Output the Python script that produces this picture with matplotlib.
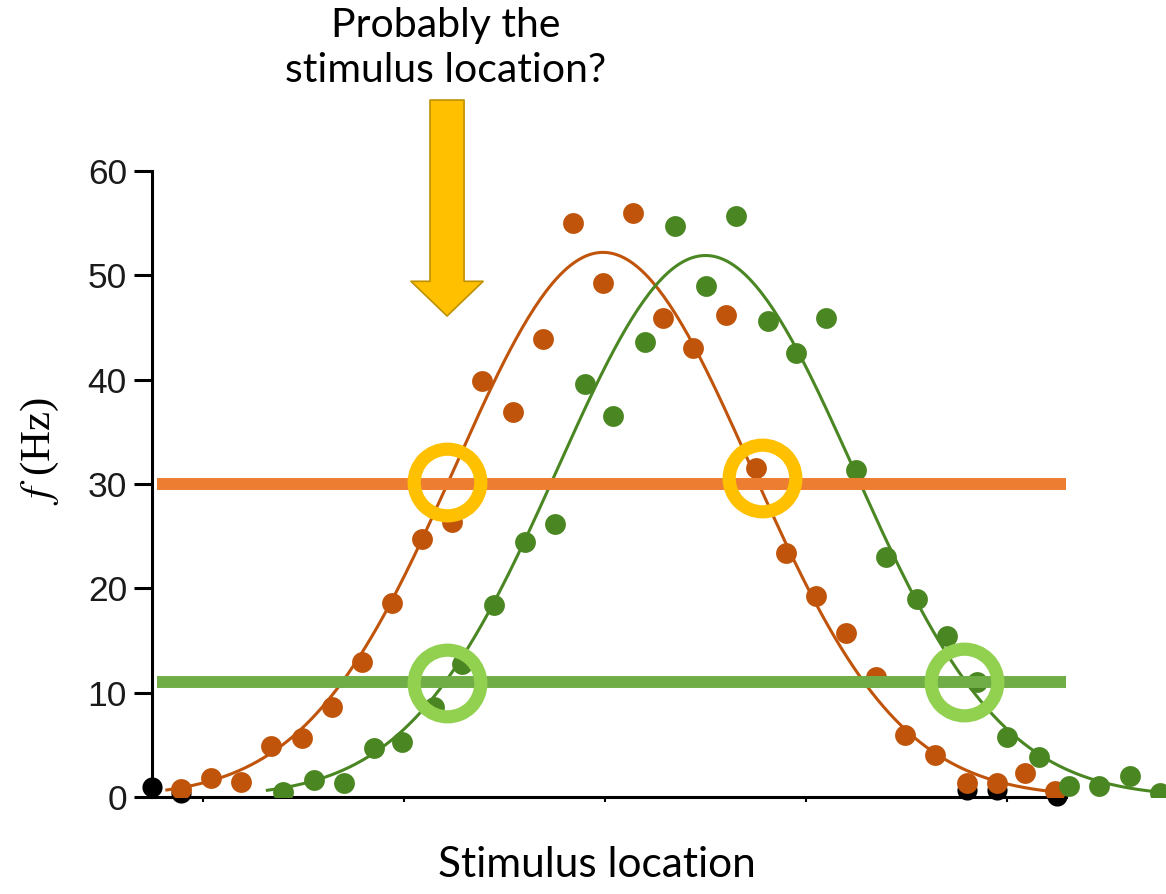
import numpy as np
import matplotlib
matplotlib.use("Agg")
from matplotlib import pyplot as plt

# stimulus positions (tick spacing = 1 unit) and firing rates
orange_x = [-0.11, 0.04, 0.19, 0.34, 0.49, 0.64, 0.79, 0.94, 1.09, 1.24,
            1.39, 1.54, 1.69, 1.84, 1.99, 2.14, 2.29, 2.44, 2.60, 2.75,
            2.90, 3.05, 3.20, 3.35, 3.49, 3.64, 3.80, 3.95, 4.09, 4.24]
orange_y = [0.8, 1.8, 1.45, 4.9, 5.65, 8.6, 12.9, 18.6, 24.7, 26.4,
            39.9, 36.9, 43.9, 55.0, 49.3, 56.0, 45.9, 43.0, 46.2, 31.5,
            23.4, 19.3, 15.7, 11.5, 5.9, 4.0, 1.3, 1.3, 2.3, 0.6]

green_x = [0.40, 0.55, 0.70, 0.85, 0.99, 1.15, 1.29, 1.45, 1.60, 1.75,
           1.90, 2.04, 2.20, 2.35, 2.50, 2.65, 2.81, 2.95, 3.10, 3.25,
           3.40, 3.55, 3.70, 3.85, 4.00, 4.16, 4.31, 4.46, 4.61, 4.76]
green_y = [0.5, 1.6, 1.3, 4.7, 5.3, 8.6, 12.7, 18.4, 24.4, 26.2,
           39.6, 36.5, 43.6, 54.7, 49.0, 55.7, 45.6, 42.6, 45.9, 31.3,
           23.0, 19.0, 15.4, 11.0, 5.75, 3.8, 1.05, 1.1, 2.0, 0.4]

black_x = [-0.254, -0.11, 3.80, 3.95, 4.25]
black_y = [0.95, 0.4, 0.7, 0.7, 0.1]

# gaussian tuning-curve fits: peak, centre, width
orange_fit = (52.2, 1.99, 0.736)
green_fit = (51.9, 2.50, 0.736)

thresholds = [30, 11]
circles_orange = [(1.214, 30.2), (2.781, 30.6)]
circles_green = [(1.214, 10.93), (3.786, 11.0)]

C_ORANGE = '#C0540A'
C_GREEN = '#4A8723'


def gauss(x, p):
    a, mu, s = p
    return a * np.exp(-(x - mu) ** 2 / (2 * s ** 2))


plt.rcParams['font.family'] = ['Liberation Sans', 'DejaVu Sans']
plt.rcParams['mathtext.fontset'] = 'stix'

fig = plt.figure(figsize=(11.66, 8.94), dpi=100)
ax = fig.add_axes([152 / 1166, 97 / 894, 1014 / 1166, 626 / 894])
ax.set_xlim(-0.254, 4.791)
ax.set_ylim(0, 60)

xo = np.linspace(-0.18, 4.3, 300)
xg = np.linspace(0.32, 4.8, 300)
ax.plot(xo, gauss(xo, orange_fit), color=C_ORANGE, lw=2.2, zorder=2)
ax.plot(xg, gauss(xg, green_fit), color=C_GREEN, lw=2.2, zorder=2)

ax.scatter(black_x, black_y, s=210, color='black', zorder=3, clip_on=False,
           linewidths=0)
ax.scatter(orange_x, orange_y, s=225, color=C_ORANGE, zorder=4, linewidths=0)
ax.scatter(green_x, green_y, s=225, color=C_GREEN, zorder=4, linewidths=0)

ax.plot([-0.229, 4.294], [thresholds[0]] * 2, color='#ED7D31', lw=8.6,
        solid_capstyle='butt', zorder=5)
ax.plot([-0.229, 4.294], [thresholds[1]] * 2, color='#70AD47', lw=8.6,
        solid_capstyle='butt', zorder=5)

for cx, cy in circles_orange:
    ax.plot(cx, cy, 'o', ms=48, mfc='none', mec='#FFC000', mew=9.5, zorder=6)
for cx, cy in circles_green:
    ax.plot(cx, cy, 'o', ms=48, mfc='none', mec='#92D050', mew=9.5, zorder=6)

# spines / ticks
ax.spines['top'].set_visible(False)
ax.spines['right'].set_visible(False)
ax.spines['left'].set_linewidth(2.2)
ax.spines['bottom'].set_linewidth(2.2)
ax.spines['bottom'].set_bounds(-0.254, 4.294)
ax.set_yticks(range(0, 61, 10))
ax.set_xticks([0, 1, 2, 3, 4])
ax.set_xticklabels([])
ax.tick_params(axis='y', length=13, width=2.2, labelsize=25.5, pad=5,
               labelcolor='#1a1a1a')
ax.tick_params(axis='x', length=3.5, width=1.5)

ax.set_ylabel('$f$ (Hz)', family='Liberation Serif', fontsize=31)
ax.yaxis.set_label_coords(-0.09, 0.553)

# arrow and annotation text
ax.annotate('', xy=(1.214, 46.1), xytext=(1.214, 66.8),
            arrowprops=dict(arrowstyle='simple,head_length=2.5,head_width=5.2,tail_width=2.45',
                            mutation_scale=10, fc='#FFC000', ec='#BF9000', lw=1.2,
                            shrinkA=0, shrinkB=0),
            annotation_clip=False, zorder=7)

fig.text(446 / 1166, 1 - 7 / 894, 'Probably the\nstimulus location?',
         ha='center', va='top', fontsize=29.5, family='Lato', linespacing=1.25)
fig.text(597 / 1166, 1 - 877 / 894, 'Stimulus location', ha='center',
         va='baseline', fontsize=30.5, family='Lato')

fig.savefig('out.png', dpi=100)
